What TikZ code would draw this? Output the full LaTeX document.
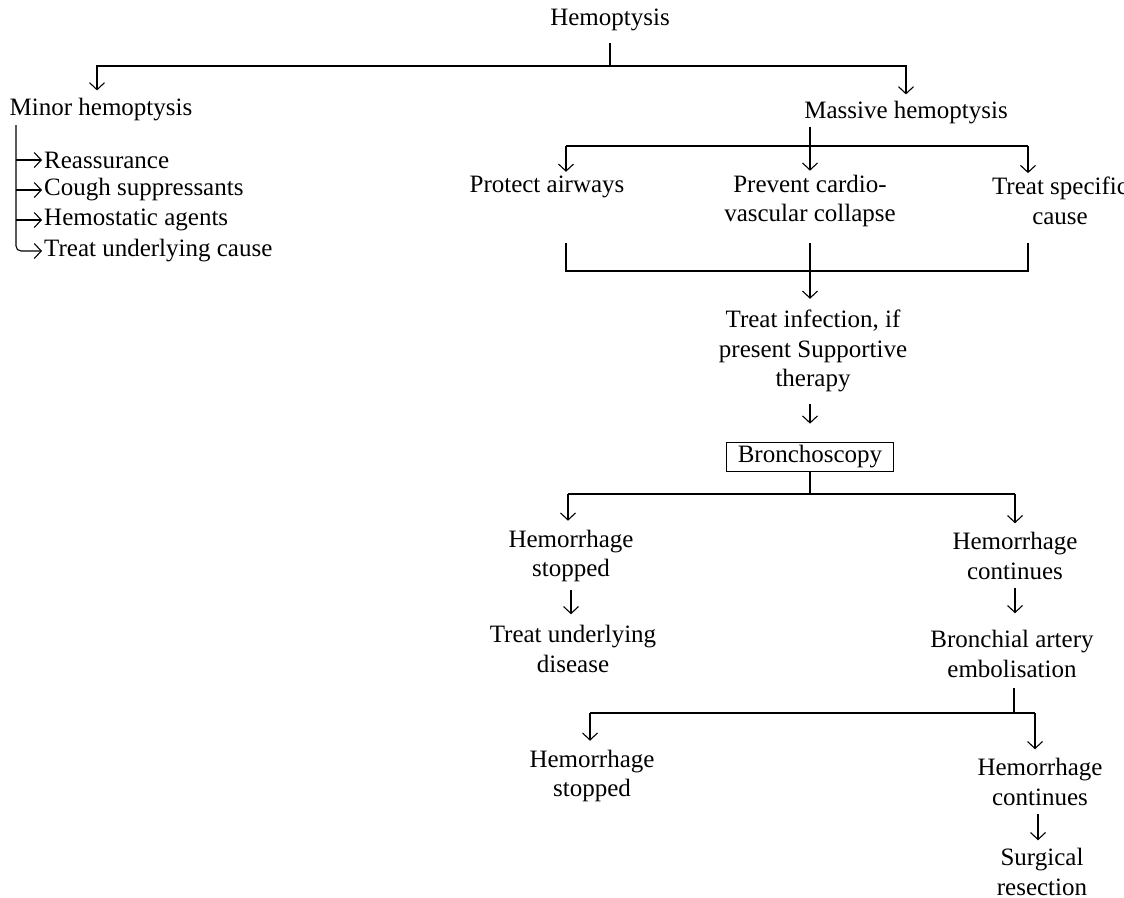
\documentclass[tikz,border=0pt]{standalone}
\usepackage{fontspec}
\setmainfont{Liberation Serif}
\usetikzlibrary{arrows.meta}
\begin{document}
\begin{tikzpicture}[x=1pt,y=-1pt,
  every node/.style={font=\fontsize{25}{29.5}\selectfont, align=center, inner sep=2pt},
  line/.style={line width=1.1pt},
  arr/.style={line width=1.1pt,-{Straight Barb[length=7pt,width=15pt,line width=1.1pt]}},
  boxed/.style={draw, line width=1pt, inner xsep=11pt, inner ysep=3.5pt}]
\useasboundingbox[fill=white] (0,0) rectangle (1124,897);
% nodes
\node (hem) at (610,20) {Hemoptysis};
\node (minor) at (101,110) {Minor hemoptysis};
\node (massive) at (906,113) {Massive hemoptysis};
\node[anchor=west] (r1) at (42,160) {Reassurance};
\node[anchor=west] (r2) at (42,190) {Cough suppressants};
\node[anchor=west] (r3) at (42,220) {Hemostatic agents};
\node[anchor=west] (r4) at (42,251) {Treat underlying cause};
\node (protect) at (547,187) {Protect airways};
\node (cardio) at (810,201) {Prevent cardio-\\vascular collapse};
\node (cause) at (1060,201) {Treat specific\\cause};
\node (infect) at (813,351) {Treat infection, if\\present Supportive\\therapy};
\node[boxed] (bronch) at (810,457) {Bronchoscopy};
\node (hs1) at (571,556) {Hemorrhage\\stopped};
\node (tud) at (573,649) {Treat underlying\\disease};
\node (hc1) at (1015,556) {Hemorrhage\\continues};
\node (bae) at (1012,654) {Bronchial artery\\embolisation};
\node (hs2) at (592,776) {Hemorrhage\\stopped};
\node (hc2) at (1040,782) {Hemorrhage\\continues};
\node (surg) at (1042,872) {Surgical\\resection};
% junction coordinates
\coordinate (j1) at (610,66);
\coordinate (j2) at (810,146);
\coordinate (pl) at (566,146);
\coordinate (pr) at (1028,146);
\coordinate (bl) at (566,243);
\coordinate (bm) at (810,243);
\coordinate (br) at (1028,243);
\coordinate (bb) at (810,271);
\coordinate (j3) at (810,494);
\coordinate (j3l) at (568,494);
\coordinate (j3r) at (1015,494);
\coordinate (j4) at (1014,713);
\coordinate (j4l) at (590,713);
\coordinate (j4r) at (1035,713);
\coordinate (tk) at (16,125);
% top split
\draw[line,shorten <=10pt] (hem.south) -- (j1);
\draw[arr,shorten >=6pt] (j1) -| ([xshift=-4pt]minor.north);
\draw[arr,shorten >=5pt] (j1) -| (massive.north);
% minor list
\draw[arr,rounded corners=5pt] (tk) -- (tk |- r4.west) -- (r4.west);
\draw[arr] (tk |- r1.west) -- (r1.west);
\draw[arr] (tk |- r2.west) -- (r2.west);
\draw[arr] (tk |- r3.west) -- (r3.west);
% massive split
\draw[line] (j2 |- massive.south) -- (j2);
\draw[line] (pl) -- (pr);
\draw[arr,shorten >=2pt] (pl) -- (pl |- protect.north);
\draw[arr,shorten >=2pt] (j2) -- (j2 |- cardio.north);
\draw[arr,shorten >=2pt] (pr) -- (pr |- cause.north);
% bracket
\draw[line] (bl) |- (bb) -| (br);
\draw[arr,shorten >=9pt] (bm) -- (bm |- infect.north);
% to bronchoscopy
\draw[arr,shorten <=10pt,shorten >=18pt] (infect.south -| bronch.north) -- (bronch.north);
% bronchoscopy split
\draw[line] (bronch.south) -- (j3);
\draw[line] (j3l) -- (j3r);
\draw[arr,shorten >=7pt] (j3l) -- (j3l |- hs1.north);
\draw[arr,shorten >=7pt] (j3r) -- (j3r |- hc1.north);
\draw[arr,shorten <=6pt,shorten >=9pt] (hs1.south) -- (hs1.south |- tud.north);
\draw[arr,shorten <=6pt,shorten >=15pt] (hc1.south) -- (hc1.south |- bae.north);
% embolisation split
\draw[line,shorten <=8pt] (j4 |- bae.south) -- (j4);
\draw[line] (j4l) -- (j4r);
\draw[arr,shorten >=7pt] (j4l) -- (j4l |- hs2.north);
\draw[arr,shorten >=7pt] (j4r) -- (j4r |- hc2.north);
\draw[arr,shorten <=6pt,shorten >=6pt] ([xshift=-2pt]hc2.south) -- ([xshift=-2pt]hc2.south |- surg.north);
\end{tikzpicture}
\end{document}
